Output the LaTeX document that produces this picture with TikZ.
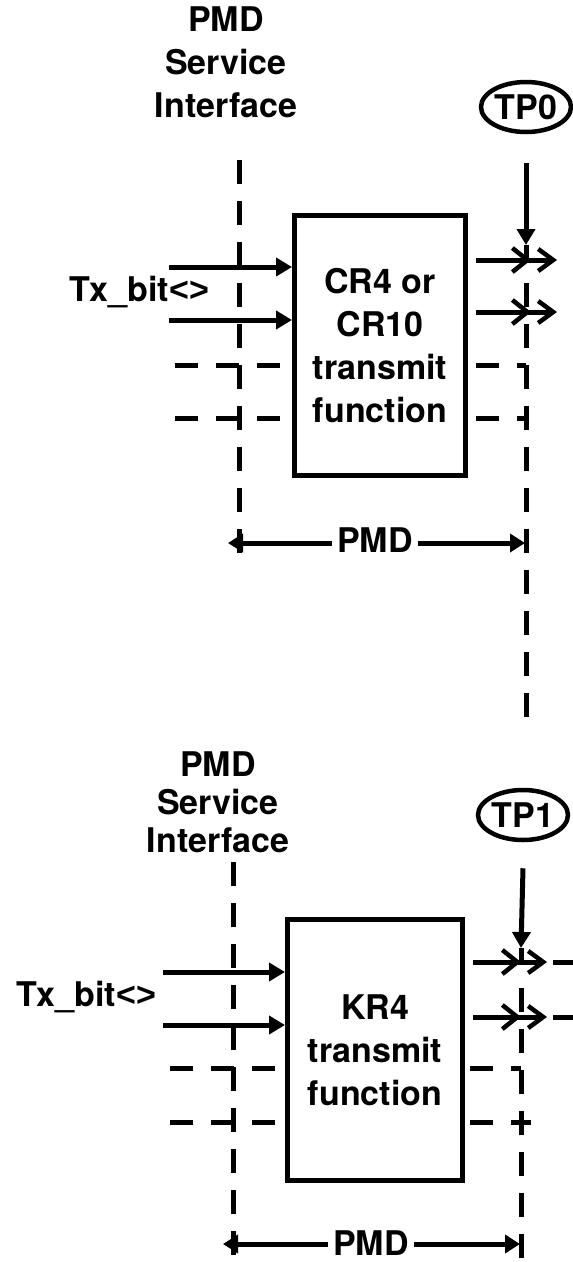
\documentclass[tikz,border=0pt]{standalone}
\usepackage{fontspec}
\setmainfont{TeX Gyre Heros}
\newfontfamily\brfont{Liberation Sans}
\usetikzlibrary{positioning, shapes.geometric, arrows.meta}

\newcommand{\txbits}{Tx\_bit{\brfont<>}}

\begin{document}
\begin{tikzpicture}[x = 1pt, y = -1pt,
    every node/.style = { font = \bfseries\fontsize{34}{43}\selectfont, inner sep = 0pt },
    block/.style = { draw, line width = 5pt, align = center },
    tpoint/.style = { draw, ellipse, line width = 4.5pt, minimum width = 90pt, minimum height = 50pt },
    vbound/.style = { line width = 5pt, dash pattern = on 24pt off 17pt },
    hbound/.style = { line width = 5pt, dash pattern = on 23pt off 18pt },
    inarrow/.style = { line width = 5pt, -{Triangle[length = 16pt, width = 18pt]} },
    outarrow/.style = { line width = 5pt,
      -{Straight Barb[length = 15pt, width = 24pt, line width = 4.5pt, sep = 5pt]
        Straight Barb[length = 15pt, width = 22pt, line width = 4.5pt]} },
    dimarrow/.style = { line width = 5pt, -{Triangle[length = 15pt, width = 18pt]} },
    dimlabel/.style = { fill = white, inner xsep = 5pt, text depth = 0pt, anchor = base }]
  \useasboundingbox (0,0) rectangle (573,1262);

  % upper half: CR4 / CR10
  \node [align = center] (psi0) at (226,62) { PMD\\Service\\Interface };
  \node [tpoint] (tp0) at (526,107) { TP0 };
  \node [block, minimum width = 171pt, minimum height = 260pt] (txa) at (380,345.5)
    { CR4 or\\CR10\\transmit\\function };
  \node (bits0) at (139,292) { \txbits };

  \draw [vbound] (239,160) -- (239,554);
  \draw [vbound] (526,283) -- (526,720);
  \foreach \y in {365,418} {
    \draw [hbound] (175,\y) -- (txa.west |- 0,\y);
    \draw [hbound] (476,\y) -- (526,\y);
  }

  \coordinate (a0) at (169,267);
  \coordinate (a1) at (169,320);
  \draw [inarrow] (a0) -- (a0 -| txa.west);
  \draw [inarrow] (a1) -- (a1 -| txa.west);

  \coordinate (o0) at (557,260);
  \coordinate (o1) at (557,312);
  \draw [outarrow] ([xshift = 8pt]txa.east |- o0) -- (o0);
  \draw [outarrow] ([xshift = 8pt]txa.east |- o1) -- (o1);

  \coordinate (h0) at (526,245);
  \draw [inarrow] (tp0.south) ++(0,29) -- (h0);
  \draw [line width = 5pt] (h0) -- (h0 |- o0);

  \node [dimlabel] (pmd0) at (375,552) { PMD };
  \coordinate (dl0) at (228,543);
  \coordinate (dr0) at (525,543);
  \draw [dimarrow] (pmd0.west |- dl0) -- (dl0);
  \draw [dimarrow] (pmd0.east |- dr0) -- (dr0);

  % lower half: KR4
  \node [align = center, font = \bfseries\fontsize{34}{38}\selectfont] (psi1) at (218,802)
    { PMD\\Service\\Interface };
  \node [tpoint] (tp1) at (523,815) { TP1 };
  \node [block, minimum width = 175pt, minimum height = 261pt] (txb) at (375,1050)
    { KR4\\transmit\\function };
  \node (bits1) at (86,997) { \txbits };

  \draw [vbound] (233,862) -- (233,1258);
  \draw [vbound] (521,988) -- (521,1258);
  \draw [hbound] (170,1068) -- (txb.west |- 0,1068);
  \draw [hbound] (170,1122) -- (txb.west |- 0,1122);
  \draw [hbound] (470,1068) -- (521,1068);
  \draw [hbound] (470,1122) -- (531,1122);

  \coordinate (b0) at (163,972);
  \coordinate (b1) at (163,1025);
  \draw [inarrow] (b0) -- (b0 -| txb.west);
  \draw [inarrow] (b1) -- (b1 -| txb.west);

  \coordinate (o2) at (547,962);
  \coordinate (o3) at (547,1017);
  \draw [outarrow] ([xshift = 8pt]txb.east |- o2) -- (o2);
  \draw [outarrow] ([xshift = 8pt]txb.east |- o3) -- (o3);
  \draw [line width = 5pt] (o2) ++(6,0) -- ++(20,0);
  \draw [line width = 5pt] (o3) ++(6,0) -- ++(20,0);

  \coordinate (h1) at (521,948);
  \draw [inarrow] (tp1.south) ++(0,26) -- (h1);
  \draw [line width = 5pt] (h1) -- (h1 |- o2);

  \node [dimlabel] (pmd1) at (371,1255) { PMD };
  \coordinate (dl1) at (223,1244);
  \coordinate (dr1) at (520,1244);
  \draw [dimarrow] (pmd1.west |- dl1) -- (dl1);
  \draw [dimarrow] (pmd1.east |- dr1) -- (dr1);
\end{tikzpicture}
\end{document}
